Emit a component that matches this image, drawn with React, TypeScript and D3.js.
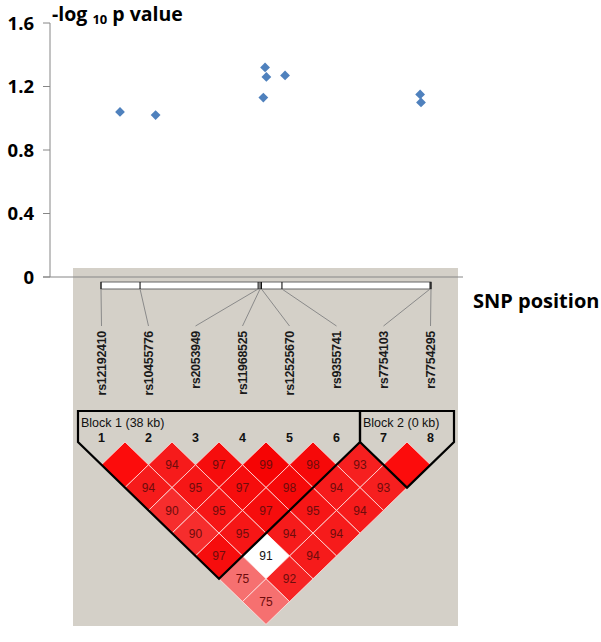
import React from "react";
import * as d3 from "d3";

// ---- data ----
const snpNames = ["rs12192410", "rs10455776", "rs2053949", "rs11968525", "rs12525670", "rs9355741", "rs7754103", "rs7754295"];
const snpPosKb = [0, 8.2, 33.0, 33.4, 33.7, 38.0, 69.1, 69.3];
const negLogP = [1.04, 1.02, 1.13, 1.32, 1.26, 1.27, 1.15, 1.10];
const yTicks = [0, 0.4, 0.8, 1.2, 1.6];
// D' (x100) by marker distance: row k holds pairs (i, i+k)
const dPrimeRows: number[][] = [
  [100, 94, 97, 99, 98, 93, 100],
  [94, 95, 97, 98, 94, 93],
  [90, 95, 97, 95, 94],
  [90, 95, 94, 94],
  [97, 91, 94],
  [75, 92],
  [75],
];
// LOD by marker distance (same layout)
const lodRows: number[][] = [
  [9, 9, 9, 9, 9, 9, 9],
  [9, 9, 9, 9, 9, 9],
  [9, 9, 9, 9, 9],
  [9, 9, 9, 9],
  [9, 1.5, 9],
  [3, 9],
  [3],
];
const blocks = [
  { label: "Block 1 (38 kb)", from: 1, to: 6 },
  { label: "Block 2 (0 kb)", from: 7, to: 8 },
];

const W = 601, H = 642;
const FONT = "'Open Sans', sans-serif";
const PIX = "'Liberation Sans', Arial, sans-serif";

export default function App() {
  const y = d3.scaleLinear().domain([0, 1.6]).range([277, 23]);
  const xTop = d3.scaleLinear().domain([0, 69.3]).range([120, 421]);
  const xBar = d3.scaleLinear().domain([0, 69.3]).range([101, 431]);
  const markerIdx = snpNames.map((_, i) => i + 1);
  const xM = d3.scalePoint<number>().domain(markerIdx).range([101.5, 430.5]);
  const step = xM.step();
  const hw = step / 2;
  const hh = 22.8;
  const ldTop = 442;

  const diamond = d3.symbol(d3.symbolSquare, 48)();

  const cellColor = (d: number, lod: number) => {
    if (lod < 2) return "#ffffff";
    if (d >= 100) return "rgb(252,12,12)";
    const blgr = Math.round((255 - 32) * 2 * (1 - d / 100));
    return `rgb(246,${blgr},${blgr})`;
  };

  const cells: { i: number; j: number; d: number; lod: number }[] = [];
  dPrimeRows.forEach((row, k) =>
    row.forEach((d, i) => cells.push({ i: i + 1, j: i + 2 + k, d, lod: lodRows[k][i] }))
  );

  const cellPath = (cx: number, cy: number) =>
    `M${cx},${cy - hh}L${cx + hw},${cy}L${cx},${cy + hh}L${cx - hw},${cy}Z`;

  return (
    <svg width={W} height={H} style={{ position: "absolute", left: 0, top: 0, background: "#fff" }}>
      <rect x={0} y={0} width={W} height={H} fill="#fff" />
      {/* title */}
      <text x={52} y={21} fontFamily={FONT} fontWeight={700} fontSize={19.5} fill="#000">
        -log <tspan fontSize={13} dy={3}>10</tspan>
        <tspan dy={-3}> p value</tspan>
      </text>
      {/* y axis */}
      <line x1={50} x2={50} y1={y(1.6)} y2={y(0)} stroke="#868686" />
      {yTicks.map((t) => (
        <g key={t}>
          <line x1={43} x2={50} y1={y(t)} y2={y(t)} stroke="#868686" />
          <text x={34} y={y(t)} dy="0.36em" textAnchor="end" fontFamily={FONT} fontWeight={700} fontSize={18.5} fill="#000">
            {t === 0 ? "0" : d3.format(".1f")(t)}
          </text>
        </g>
      ))}
      {/* gray haploview panel */}
      <rect x={73} y={268} width={385} height={358} fill="#d4d0c8" />
      {/* x axis */}
      <line x1={43} x2={463} y1={y(0)} y2={y(0)} stroke="#868686" />
      {/* scatter */}
      {negLogP.map((v, i) => (
        <path key={i} d={diamond} transform={`translate(${xTop(snpPosKb[i])},${y(v)}) rotate(45)`} fill="#4f81bd" />
      ))}
      <text x={473} y={308} fontFamily={FONT} fontWeight={700} fontSize={20} fill="#000">SNP position</text>
      {/* SNP bar */}
      <rect x={xBar(0)} y={282} width={xBar(69.3) - xBar(0)} height={7} fill="#fff" stroke="#666" strokeWidth={1} />
      {snpPosKb.map((p, i) => (
        <g key={i}>
          <line x1={xBar(p)} x2={xBar(p)} y1={282} y2={289} stroke="#111" strokeWidth={1.1} />
          <line x1={xBar(p)} x2={xM(i + 1)!} y1={289} y2={326} stroke="#8a8a8a" strokeWidth={1} />
          <text
            transform={`translate(${xM(i + 1)},331) rotate(-90)`}
            textAnchor="end"
            dominantBaseline="central"
            fontFamily={PIX}
            fontWeight={700}
            fontSize={12.5}
            letterSpacing={-0.3}
            fill="#1a1a1a"
          >
            {snpNames[i]}
          </text>
        </g>
      ))}
      {/* marker numbers */}
      {markerIdx.map((m) => (
        <text key={m} x={xM(m)} y={442} textAnchor="middle" fontFamily={PIX} fontWeight={700} fontSize={12.5} fill="#111">
          {m}
        </text>
      ))}
      {/* LD cells */}
      {cells.map((c) => {
        const cx = (xM(c.i)! + xM(c.j)!) / 2;
        const cy = ldTop + hh * (c.j - c.i);
        const fill = cellColor(c.d, c.lod);
        return (
          <g key={`${c.i}-${c.j}`}>
            <path d={cellPath(cx, cy)} fill={fill} stroke="rgba(255,235,235,0.75)" strokeWidth={1} />
            {c.d < 100 && (
              <text x={cx} y={cy} dy="0.36em" textAnchor="middle" fontFamily={PIX} fontSize={12} fill={c.lod < 2 ? "#111" : "#6e0c0c"}>
                {c.d}
              </text>
            )}
          </g>
        );
      })}
      {/* block outlines */}
      {blocks.map((b) => {
        const left = xM(b.from)! - hw;
        const right = xM(b.to)! + hw;
        const ax = (xM(b.from)! + xM(b.to)!) / 2;
        const ay = ldTop + hh * (b.to - b.from + 1);
        const top = 411;
        const pts = [
          [left, top],
          [right, top],
          [right, ldTop],
          [ax, ay],
          [left, ldTop],
        ];
        return (
          <g key={b.label}>
            <path d={`M${pts.map((p) => p.join(",")).join("L")}Z`} fill="none" stroke="#000" strokeWidth={2.2} strokeLinejoin="miter" />
            <text x={left + 3} y={427} fontFamily={PIX} fontSize={12.5} fill="#111">
              {b.label}
            </text>
          </g>
        );
      })}
    </svg>
  );
}
